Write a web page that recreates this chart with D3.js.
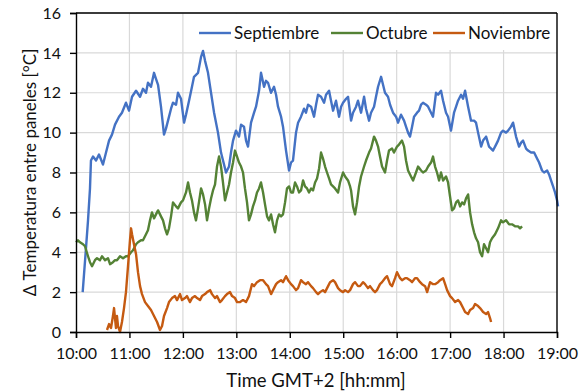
<!DOCTYPE html>
<html>
<head>
<meta charset="utf-8">
<script src="https://cdn.jsdelivr.net/npm/d3@7"></script>
<style>
  html, body { margin: 0; padding: 0; background: #fff; }
  svg { display: block; font-family: Lato, "Open Sans", sans-serif; }
</style>
</head>
<body>
<svg id="chart" width="585" height="392"></svg>
<script>
// Minutes after 10:00 and temperature difference between panels [°C]
const septiembre = [
  [7.5,2.0],[11.2,4.2],[13.5,5.6],[15.7,7.2],[16.8,8.6],[19.1,8.8],[22.5,8.6],[25.8,8.9],[30.3,8.4],
  [33.7,9.0],[37.1,9.6],[40.4,9.9],[43.8,10.4],[48.3,10.8],[51.6,11.0],[56.1,11.5],[59.5,11.1],
  [62.9,11.8],[67.4,12.1],[71.9,11.8],[75.2,12.2],[78.6,12.0],[80.8,12.5],[84.2,12.3],[87.6,13.0],
  [89.8,12.7],[92.1,12.4],[95.4,11.3],[98.8,9.9],[101.0,10.2],[103.3,10.6],[106.7,11.2],[108.9,11.5],
  [112.3,11.4],[114.5,12.0],[117.9,11.7],[121.3,10.5],[123.5,10.9],[126.9,11.6],[130.2,12.3],
  [132.5,12.8],[137.0,13.0],[140.4,13.8],[142.6,14.1],[144.9,13.6],[148.2,13.0],[151.6,12.0],
  [155.0,11.0],[159.4,10.0],[162.8,9.0],[166.2,8.4],[168.4,8.0],[171.8,8.3],[174.0,9.0],[176.3,9.6],
  [179.6,10.1],[183.0,9.8],[185.3,10.4],[188.6,10.3],[190.9,9.6],[193.1,9.3],[196.5,10.5],[199.9,11.0],
  [202.1,11.3],[205.5,12.1],[207.7,13.0],[211.1,12.3],[213.3,12.6],[215.6,12.5],[218.9,12.0],
  [222.3,12.3],[224.6,11.9],[226.8,11.3],[230.2,10.8],[232.4,10.3],[235.8,9.1],[239.2,8.1],[241.4,8.5],
  [243.6,8.6],[247.0,10.0],[249.3,10.5],[252.6,10.8],[256.0,11.2],[258.2,11.0],[260.5,11.4],
  [263.9,11.3],[267.2,10.8],[269.5,11.4],[271.7,11.9],[275.1,11.8],[278.5,11.5],[280.7,11.9],
  [284.1,12.1],[286.3,11.6],[288.6,11.1],[291.9,11.6],[295.3,10.8],[297.6,11.3],[299.8,11.5],
  [303.2,11.7],[305.4,11.8],[308.8,10.6],[311.0,11.0],[314.4,11.3],[316.6,11.6],[320.0,11.0],
  [323.4,11.8],[325.6,11.2],[329.0,10.6],[331.2,11.0],[334.6,11.3],[336.8,11.8],[339.1,12.3],
  [342.5,12.8],[344.7,12.4],[346.9,12.0],[350.3,11.8],[352.6,11.4],[355.9,11.0],[359.3,10.8],
  [361.6,10.5],[364.9,10.9],[368.3,10.6],[370.5,10.3],[372.8,10.0],[375.0,9.8],[377.3,10.3],
  [379.5,10.8],[382.9,11.0],[385.1,11.1],[387.4,11.4],[389.6,11.5],[393.0,11.4],[395.3,11.3],
  [398.6,11.0],[400.8,10.8],[404.2,12.0],[406.5,11.9],[409.8,12.1],[412.1,11.6],[415.4,11.0],
  [417.7,10.8],[421.0,10.1],[424.4,11.0],[426.7,11.3],[428.9,11.6],[432.3,11.9],[434.5,11.7],
  [436.8,12.1],[440.2,11.3],[443.5,10.6],[446.9,10.6],[449.1,10.5],[451.4,10.0],[454.8,9.3],
  [457.0,9.6],[460.4,9.8],[463.7,9.3],[466.0,9.2],[468.2,9.1],[471.6,9.4],[473.8,9.6],[477.2,10.0],
  [479.4,10.1],[482.8,10.0],[485.1,10.1],[488.4,10.3],[490.7,10.5],[494.0,9.8],[497.4,9.3],
  [499.7,9.5],[501.9,9.6],[505.3,9.2],[507.5,9.1],[510.9,9.0],[514.3,9.0],[517.6,8.7],[519.9,8.5],
  [523.2,8.1],[525.5,8.0],[528.9,8.1],[531.1,7.9],[533.3,7.6],[535.6,7.3],[537.8,7.0],[540.1,6.6],
  [541.2,6.3]
];

const octubre = [
  [0,4.5],[2.2,4.6],[4.5,4.5],[7.9,4.4],[10.1,4.3],[13.5,3.8],[15.7,3.5],[18.0,3.3],[21.3,3.6],
  [23.6,3.7],[26.9,3.6],[29.2,3.8],[32.6,3.6],[35.9,3.7],[38.2,3.4],[41.5,3.5],[43.8,3.6],[46.0,3.6],
  [49.4,3.8],[52.8,3.7],[56.1,3.8],[58.4,3.8],[61.8,4.0],[64.0,4.1],[67.4,4.4],[69.6,4.5],[73.0,4.6],
  [75.2,4.6],[78.6,4.9],[80.8,5.1],[83.1,5.6],[85.3,6.0],[87.6,5.7],[89.8,5.9],[92.1,6.1],[95.4,5.8],
  [97.7,5.6],[99.9,5.2],[102.2,4.9],[104.4,5.2],[106.7,5.8],[108.9,6.5],[112.3,6.3],[114.5,6.2],
  [117.9,6.5],[120.1,6.6],[123.5,7.0],[125.8,7.5],[128.0,7.0],[130.2,6.6],[132.5,6.0],[134.7,5.6],
  [137.0,6.2],[140.4,7.2],[142.6,6.9],[144.9,6.4],[147.1,5.6],[149.4,6.2],[151.6,6.7],[153.8,7.1],
  [156.1,7.4],[158.3,8.3],[160.6,8.8],[162.8,8.3],[165.0,7.5],[167.3,6.6],[169.5,7.0],[171.8,7.4],
  [174.0,8.0],[176.3,8.5],[178.5,9.1],[180.8,8.8],[183.0,8.5],[185.3,8.3],[187.5,8.0],[189.7,7.2],
  [192.0,6.5],[194.2,5.6],[196.5,5.9],[198.7,6.3],[201.0,6.6],[203.2,7.0],[205.5,7.2],[207.7,7.5],
  [210.0,7.0],[212.2,6.4],[214.5,5.8],[216.7,5.6],[219.0,5.9],[221.2,5.4],[223.4,5.0],[225.7,5.6],
  [227.9,5.9],[230.2,5.8],[232.4,5.9],[234.7,6.5],[236.9,7.2],[239.2,7.3],[241.4,7.0],[243.6,7.0],
  [245.9,7.5],[248.1,7.3],[250.4,7.0],[252.6,7.1],[254.9,7.6],[257.1,7.3],[259.4,7.2],[261.6,7.0],
  [263.9,7.2],[266.1,7.1],[268.4,7.5],[270.6,7.7],[272.9,8.2],[275.1,9.0],[277.3,8.7],[279.6,8.3],
  [281.8,8.0],[284.1,7.7],[286.3,7.4],[288.6,7.3],[290.8,7.2],[294.2,7.0],[296.4,7.5],[299.8,8.0],
  [302.1,7.8],[305.4,7.6],[307.7,7.3],[308.8,7.1],[311.0,6.3],[313.3,5.9],[315.5,6.5],[317.8,7.3],
  [320.0,7.8],[323.4,8.3],[325.6,8.6],[329.0,9.0],[331.2,9.2],[334.6,9.8],[336.8,9.6],[339.1,9.3],
  [341.3,8.8],[343.6,8.3],[346.9,8.0],[349.2,8.6],[351.4,9.1],[354.8,9.2],[357.0,9.0],[360.4,9.3],
  [362.6,9.4],[366.0,9.6],[368.3,9.3],[370.5,8.6],[372.8,8.1],[376.1,7.8],[378.4,7.6],[381.7,8.0],
  [384.0,8.3],[387.4,8.1],[389.6,8.0],[393.0,8.1],[395.3,8.3],[398.6,8.5],[400.8,8.8],[403.1,8.3],
  [405.3,8.0],[407.6,7.6],[409.8,8.0],[412.1,7.6],[415.4,7.8],[417.7,7.5],[419.9,6.8],[422.2,6.1],
  [424.4,6.2],[426.7,6.5],[428.9,6.6],[431.2,6.3],[433.4,6.5],[435.7,6.4],[437.9,6.7],[440.2,6.9],
  [442.4,6.0],[444.7,5.4],[446.9,5.0],[449.1,4.7],[451.4,4.5],[453.6,4.0],[455.9,3.8],[458.1,4.4],
  [460.4,4.2],[462.6,4.0],[464.8,4.5],[467.1,4.7],[470.5,4.9],[473.8,5.2],[477.2,5.6],[479.4,5.5],
  [482.8,5.6],[486.2,5.4],[489.5,5.4],[492.9,5.3],[496.3,5.3],[498.5,5.2],[500.8,5.3]
];

const noviembre = [
  [34.8,0.1],[37.1,0.4],[39.3,0.2],[41.5,0.8],[42.7,1.2],[43.8,0.7],[44.9,0.2],[46.0,0.8],[47.2,0.3],
  [49.4,0.0],[51.6,0.5],[53.9,1.2],[56.1,2.0],[58.4,3.3],[60.6,4.6],[61.8,5.2],[62.9,4.9],[65.1,4.4],
  [67.4,3.9],[69.6,3.0],[71.9,2.3],[74.1,1.9],[77.5,1.5],[80.8,1.3],[84.2,1.1],[87.6,0.8],[91.0,0.5],
  [94.3,0.1],[96.6,0.3],[98.8,0.8],[102.2,1.2],[104.4,1.5],[107.8,1.7],[111.1,1.8],[113.4,1.6],
  [116.8,1.9],[119.0,1.6],[122.4,1.7],[124.6,1.8],[128.0,1.5],[130.2,1.7],[133.6,1.8],[135.9,1.7],
  [139.2,1.6],[141.5,1.8],[144.9,1.9],[147.1,2.0],[150.5,2.1],[152.7,1.9],[156.1,1.7],[158.3,1.8],
  [161.7,1.5],[163.9,1.6],[167.3,1.8],[169.5,1.9],[172.9,2.0],[175.2,1.8],[178.5,1.7],[180.8,1.5],
  [184.2,1.5],[187.5,1.6],[190.9,1.5],[194.2,1.8],[197.6,2.4],[199.9,2.3],[203.2,2.5],[206.6,2.6],
  [210.0,2.6],[213.3,2.4],[215.6,2.3],[219.0,1.9],[221.2,2.1],[224.6,2.4],[226.8,2.5],[230.2,2.6],
  [232.4,2.5],[235.8,2.8],[238.1,2.6],[241.4,2.4],[243.6,2.3],[247.0,2.1],[249.3,2.2],[252.6,2.6],
  [254.9,2.5],[258.2,2.4],[260.5,2.5],[263.9,2.3],[266.1,2.2],[269.5,2.0],[271.7,1.9],[274.0,2.0],
  [277.3,2.1],[279.6,2.0],[283.0,2.3],[285.2,2.5],[288.6,2.6],[290.8,2.5],[294.2,2.2],[296.4,2.1],
  [299.8,2.0],[302.1,2.1],[305.4,2.0],[307.7,2.1],[311.0,2.4],[313.3,2.5],[316.6,2.3],[318.8,2.3],
  [322.2,2.5],[324.5,2.4],[327.8,2.2],[330.1,2.3],[333.4,2.1],[335.7,2.0],[337.9,2.1],[341.3,2.4],
  [343.6,2.5],[346.9,2.7],[349.2,2.8],[352.6,2.4],[354.8,2.3],[358.2,2.7],[360.4,3.0],[363.8,2.7],
  [366.0,2.6],[369.4,2.7],[371.6,2.7],[375.0,2.6],[377.3,2.5],[380.6,2.7],[382.9,2.7],[386.3,2.5],
  [388.5,2.4],[391.9,2.3],[394.2,2.0],[397.5,2.5],[400.9,2.4],[403.1,2.4],[406.5,2.5],[408.8,2.6],
  [412.1,2.7],[414.4,2.4],[416.6,2.1],[420.0,1.8],[422.2,1.7],[425.6,1.5],[429.0,1.6],[431.2,1.5],
  [434.6,1.2],[436.8,1.0],[440.2,0.9],[442.4,1.1],[445.8,1.2],[448.0,1.4],[451.4,1.3],[453.6,1.2],
  [457.0,1.0],[460.4,0.9],[462.6,1.0],[464.8,0.7],[466.0,0.5]
];

const seriesNames = ["Septiembre", "Octubre", "Noviembre"];
const seriesColors = ["#4472C4", "#548235", "#C55A11"];
const xTickLabels = ["10:00","11:00","12:00","13:00","14:00","15:00","16:00","17:00","18:00","19:00"];
const yTicks = [0, 2, 4, 6, 8, 10, 12, 14, 16];

const svg = d3.select("#chart");
const plot = { left: 76, right: 557, top: 13, bottom: 332 };

const x = d3.scaleLinear().domain([0, 540]).range([plot.left, plot.right]);
const y = d3.scaleLinear().domain([0, 16]).range([plot.bottom, plot.top]);

// grid
const grid = svg.append("g");
grid.selectAll("line.h").data(yTicks.slice(1)).join("line")
  .attr("x1", plot.left).attr("x2", plot.right)
  .attr("y1", d => y(d)).attr("y2", d => y(d))
  .attr("stroke", "#d9d9d9").attr("stroke-width", 1.2);
grid.selectAll("line.v").data(d3.range(1, 9)).join("line")
  .attr("x1", d => x(d * 60)).attr("x2", d => x(d * 60))
  .attr("y1", plot.top).attr("y2", plot.bottom)
  .attr("stroke", "#d9d9d9").attr("stroke-width", 1.2);

// legend background hides the grid behind it
svg.append("rect").attr("x", 195).attr("y", plot.top + 1)
  .attr("width", plot.right - 196).attr("height", 36).attr("fill", "#fff");

// series lines
const line = d3.line().x(d => x(d[0])).y(d => y(d[1]));
[septiembre, octubre, noviembre].forEach((data, i) => {
  svg.append("path").datum(data)
    .attr("fill", "none")
    .attr("stroke", seriesColors[i])
    .attr("stroke-width", 2.4)
    .attr("stroke-linejoin", "round")
    .attr("d", line);
});

// axes
const yAxis = d3.axisLeft(y).tickValues(yTicks).tickSize(6).tickPadding(9).tickFormat(d3.format("d"));
const gy = svg.append("g").attr("transform", `translate(${plot.left},0)`).call(yAxis);
const xAxis = d3.axisBottom(x).tickValues(d3.range(0, 541, 60)).tickSize(6).tickPadding(10)
  .tickFormat((d, i) => xTickLabels[i]);
const gx = svg.append("g").attr("transform", `translate(0,${plot.bottom})`).call(xAxis);
[gx, gy].forEach(g => {
  g.select(".domain").attr("stroke", "#000").attr("stroke-width", 1.4);
  g.selectAll(".tick line").attr("stroke", "#000").attr("stroke-width", 1.4);
  g.selectAll(".tick text").attr("fill", "#111").style("font-size", "16px")
    .style("font-family", "Lato, 'Open Sans', sans-serif");
});

// frame top and right
svg.append("line").attr("x1", plot.left).attr("x2", plot.right).attr("y1", plot.top).attr("y2", plot.top)
  .attr("stroke", "#000").attr("stroke-width", 1.4);
svg.append("line").attr("x1", plot.right).attr("x2", plot.right).attr("y1", plot.top).attr("y2", plot.bottom)
  .attr("stroke", "#000").attr("stroke-width", 1.4);

// axis titles
svg.append("text").attr("x", 316).attr("y", 387)
  .attr("text-anchor", "middle").style("font-size", "18.5px").attr("fill", "#111")
  .text("Time GMT+2 [hh:mm]");
svg.append("text")
  .attr("transform", `translate(36,${(plot.top + plot.bottom) / 2}) rotate(-90)`)
  .attr("text-anchor", "middle").style("font-size", "17px").attr("fill", "#111")
  .text("Δ Temperatura entre paneles [°C]");

// legend: each entry is a short line swatch followed by the month name
const legendX = [199, 331, 433];
seriesNames.forEach((name, i) => {
  const g = svg.append("g").attr("transform", `translate(${legendX[i]},33)`);
  g.append("line").attr("x1", 0).attr("x2", 32).attr("stroke", seriesColors[i]).attr("stroke-width", 2.4);
  g.append("text").attr("x", 35).attr("y", 6).style("font-size", "17px").attr("fill", "#111").text(name);
});
</script>
</body>
</html>
